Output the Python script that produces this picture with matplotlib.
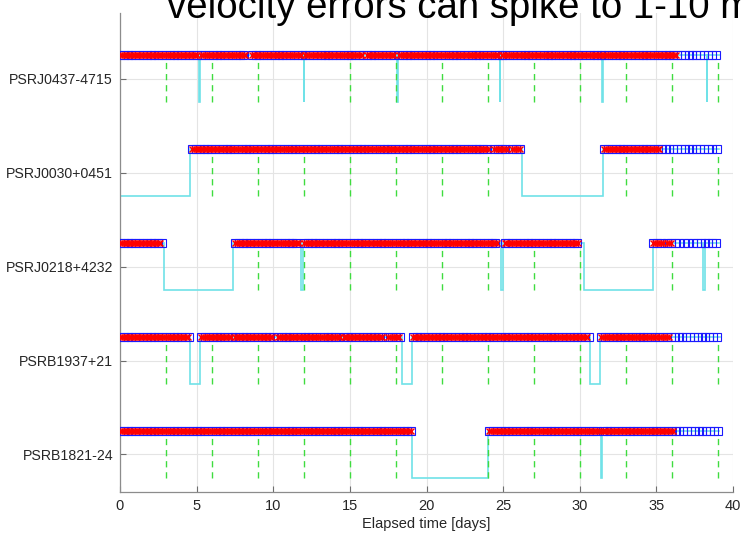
import numpy as np
import matplotlib
matplotlib.use('Agg')
import matplotlib.pyplot as plt

plt.rcParams['font.family'] = ['Liberation Sans', 'DejaVu Sans']

# ---------------- data ----------------
pulsars = ['PSRB1821-24', 'PSRB1937+21', 'PSRJ0218+4232', 'PSRJ0030+0451', 'PSRJ0437-4715']
row_pos = [1, 2, 3, 4, 5]

# intervals (days) during which each pulsar is visible (cyan line high)
visible_J0437 = [(0, 5.18), (5.22, 11.98), (12.02, 18.08), (18.12, 24.78), (24.82, 31.48), (31.52, 38.28), (38.32, 39.15)]
visible_J0030 = [(4.6, 26.2), (31.5, 39.1)]
visible_J0218 = [(0, 2.85), (7.4, 11.8), (11.95, 24.87), (25.0, 30.3), (34.75, 38.05), (38.2, 39.1)]
visible_B1937 = [(0, 4.6), (5.2, 18.4), (19.05, 30.65), (31.3, 39.15)]
visible_B1821 = [(0, 19.05), (24.0, 31.38), (31.42, 39.1)]

# intervals (days) with measurements (marker band)
obs_J0437 = [(0, 5.1), (5.3, 8.2), (8.6, 11.9), (12.1, 15.9), (16.1, 18.0), (18.2, 24.7), (24.9, 31.4), (31.6, 38.2), (38.4, 39.1)]
obs_J0030 = [(4.7, 24.1), (24.4, 25.3), (25.6, 26.1), (31.6, 38.7), (38.95, 39.0)]
obs_J0218 = [(0, 2.75), (7.5, 11.7), (12.0, 24.7), (25.1, 30.0), (34.8, 35.4), (35.7, 36.6), (36.8, 37.2), (37.4, 39.0)]
obs_B1937 = [(0, 4.5), (5.3, 7.3), (7.5, 10.0), (10.3, 14.4), (14.6, 17.2), (17.5, 18.3), (19.1, 30.6), (31.4, 35.0), (35.2, 39.1)]
obs_B1821 = [(0, 19.0), (24.1, 31.3), (31.5, 39.1)]

# day after which only the blue-square series continues
red_end = [36.1, 35.9, 36.0, 35.2, 36.3]

# epochs of the dashed green marks (days)
event_days = [3, 6, 9, 12, 15, 18, 21, 24, 27, 30, 33, 36, 39]

x_ticks = [0, 5, 10, 15, 20, 25, 30, 35, 40]

visible = [visible_B1821, visible_B1937, visible_J0218, visible_J0030, visible_J0437]
observed = [obs_B1821, obs_B1937, obs_J0218, obs_J0030, obs_J0437]

# ---------------- styling ----------------
HI, LO = 0.25, -0.25
blue_step = 0.25
red_step = 0.12
cyan = '#70e2e8'
green = '#3fdc3f'

fig = plt.figure(figsize=(7.43, 5.43), dpi=100)
ax = fig.add_axes([120 / 743, 1 - 492 / 543, 613 / 743, (492 - 13) / 543])

for r, vis, obs, rend in zip(row_pos, visible, observed, red_end):
    # cyan visibility step line
    xs, ys = [], []
    cur = 0.0
    for k, (a, b) in enumerate(vis):
        if a > cur:
            if k == 0:
                xs += [cur]
                ys += [r + LO]
            xs += [a, a]
            ys += [r + LO, r + HI]
        else:
            xs += [a]
            ys += [r + HI]
        xs += [b]
        ys += [r + HI]
        if k < len(vis) - 1:
            xs += [b]
            ys += [r + LO]
        cur = b
    ax.plot(xs, ys, color=cyan, lw=1.2, zorder=2, solid_joinstyle='miter')

    # green dashed marks at epochs while visible
    for d in event_days:
        if any(a <= d <= b for a, b in vis):
            ax.plot([d, d], [r + LO, r + 0.2], color=green, lw=1.0,
                    dashes=(4.5, 3.5), zorder=3)

    # measurement markers
    for a, b in obs:
        tb = np.arange(a, b + 1e-9, blue_step)
        ax.plot(tb, np.full_like(tb, r + HI), linestyle='none', marker='s',
                ms=5.3, mfc='none', mec='#1a1aff', mew=0.8, zorder=4)
        if a < rend:
            tr = np.arange(a, min(b, rend) + 1e-9, red_step)
            ax.plot(tr, np.full_like(tr, r + HI), linestyle='none', marker='x',
                    ms=4.0, mec='#ff0000', mew=1.0, zorder=5)

ax.set_xlim(0, 40)
ax.set_ylim(0.6, 5.7)
ax.set_xticks(x_ticks)
ax.set_yticks(row_pos)
ax.set_yticklabels(pulsars)
ax.set_xlabel('Elapsed time [days]', fontsize=10.5, color='#262626', labelpad=3)

ax.grid(True, color='#e4e4e4', lw=0.8, zorder=0)
ax.set_axisbelow(True)
for s in ['top', 'right']:
    ax.spines[s].set_visible(False)
for s in ['left', 'bottom']:
    ax.spines[s].set_color('#8c8c8c')
    ax.spines[s].set_linewidth(0.9)
ax.tick_params(direction='in', length=4, width=0.8, color='#6e6e6e',
               labelsize=10.5, labelcolor='#262626', pad=5)
ax.tick_params(axis='y', labelsize=10.2)

fig.text(167 / 743, 1 - 18 / 543, 'velocity errors can spike to 1-10 m/s',
         fontsize=27.6, ha='left', va='baseline', color='black')

fig.savefig('out.png', dpi=100)
